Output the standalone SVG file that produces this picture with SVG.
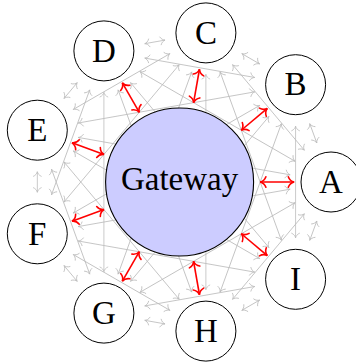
<svg xmlns="http://www.w3.org/2000/svg" width="356" height="363" viewBox="0 0 356 363">
  <style>
    .mesh line { stroke: #bcbcbc; stroke-width: 0.8; fill: none; marker-start: url(#tipGray); marker-end: url(#tipGray); }
    .link line { stroke: #ff0000; stroke-width: 1.6; fill: none; marker-start: url(#tipRed); marker-end: url(#tipRed); }
    .node circle { fill: #ffffff; stroke: #000000; stroke-width: 1; }
    .hub circle { fill: #ccccff; stroke: #000000; stroke-width: 1.1; }
    text { font-family: "Liberation Serif", "DejaVu Serif", serif; font-size: 33px; fill: #000000; text-anchor: middle; }
  </style>
  <defs>
    <marker id="tipGray" viewBox="-7 -6 9 12" refX="0" refY="0" markerWidth="9" markerHeight="12" markerUnits="userSpaceOnUse" orient="auto-start-reverse" style="overflow:visible">
      <path d="M-4.6,-3.9 C-3.7,-1.6 -1.6,-0.4 0,0 C-1.6,0.4 -3.7,1.6 -4.6,3.9" fill="none" stroke="#bcbcbc" stroke-width="0.8" stroke-linecap="round"/>
    </marker>
    <marker id="tipRed" viewBox="-8 -7 10 14" refX="0" refY="0" markerWidth="10" markerHeight="14" markerUnits="userSpaceOnUse" orient="auto-start-reverse" style="overflow:visible">
      <path d="M-5.8,-5.3 C-4.7,-2.2 -2.2,-0.5 0,0 C-2.2,0.5 -4.7,2.2 -5.8,5.3" fill="none" stroke="#ff0000" stroke-width="1.6" stroke-linecap="round"/>
    </marker>
  </defs>

  <!-- connectors: chords between the ring nodes (rotated about the hub centre 179.6,182), then hub links -->
  <g id="connectors">
    <g class="mesh">
      <!-- neighbours (1 step apart) -->
      <line x1="321.87" y1="171.72" x2="321.87" y2="192.28" transform="rotate(-20 179.6 182)"/>
      <line x1="321.87" y1="171.72" x2="321.87" y2="192.28" transform="rotate(-60 179.6 182)"/>
      <line x1="321.87" y1="171.72" x2="321.87" y2="192.28" transform="rotate(-100 179.6 182)"/>
      <line x1="321.87" y1="171.72" x2="321.87" y2="192.28" transform="rotate(-140 179.6 182)"/>
      <line x1="321.87" y1="171.72" x2="321.87" y2="192.28" transform="rotate(-180 179.6 182)"/>
      <line x1="321.87" y1="171.72" x2="321.87" y2="192.28" transform="rotate(-220 179.6 182)"/>
      <line x1="321.87" y1="171.72" x2="321.87" y2="192.28" transform="rotate(-260 179.6 182)"/>
      <line x1="321.87" y1="171.72" x2="321.87" y2="192.28" transform="rotate(-300 179.6 182)"/>
      <line x1="321.87" y1="171.72" x2="321.87" y2="192.28" transform="rotate(-340 179.6 182)"/>
      <!-- 2 steps apart -->
      <line x1="295.58" y1="126.18" x2="295.58" y2="237.82"/>
      <line x1="295.58" y1="126.18" x2="295.58" y2="237.82" transform="rotate(-40 179.6 182)"/>
      <line x1="295.58" y1="126.18" x2="295.58" y2="237.82" transform="rotate(-80 179.6 182)"/>
      <line x1="295.58" y1="126.18" x2="295.58" y2="237.82" transform="rotate(-120 179.6 182)"/>
      <line x1="295.58" y1="126.18" x2="295.58" y2="237.82" transform="rotate(-160 179.6 182)"/>
      <line x1="295.58" y1="126.18" x2="295.58" y2="237.82" transform="rotate(-200 179.6 182)"/>
      <line x1="295.58" y1="126.18" x2="295.58" y2="237.82" transform="rotate(-240 179.6 182)"/>
      <line x1="295.58" y1="126.18" x2="295.58" y2="237.82" transform="rotate(-280 179.6 182)"/>
      <line x1="295.58" y1="126.18" x2="295.58" y2="237.82" transform="rotate(-320 179.6 182)"/>
      <!-- 3 steps apart (tangent to the hub) -->
      <line x1="255.3" y1="92.38" x2="255.3" y2="271.62" transform="rotate(-20 179.6 182)"/>
      <line x1="255.3" y1="92.38" x2="255.3" y2="271.62" transform="rotate(-60 179.6 182)"/>
      <line x1="255.3" y1="92.38" x2="255.3" y2="271.62" transform="rotate(-100 179.6 182)"/>
      <line x1="255.3" y1="92.38" x2="255.3" y2="271.62" transform="rotate(-140 179.6 182)"/>
      <line x1="255.3" y1="92.38" x2="255.3" y2="271.62" transform="rotate(-180 179.6 182)"/>
      <line x1="255.3" y1="92.38" x2="255.3" y2="271.62" transform="rotate(-220 179.6 182)"/>
      <line x1="255.3" y1="92.38" x2="255.3" y2="271.62" transform="rotate(-260 179.6 182)"/>
      <line x1="255.3" y1="92.38" x2="255.3" y2="271.62" transform="rotate(-300 179.6 182)"/>
      <line x1="255.3" y1="92.38" x2="255.3" y2="271.62" transform="rotate(-340 179.6 182)"/>
      <!-- 4 steps apart (pass under the hub) -->
      <line x1="205.89" y1="74.4" x2="205.89" y2="289.6"/>
      <line x1="205.89" y1="74.4" x2="205.89" y2="289.6" transform="rotate(-40 179.6 182)"/>
      <line x1="205.89" y1="74.4" x2="205.89" y2="289.6" transform="rotate(-80 179.6 182)"/>
      <line x1="205.89" y1="74.4" x2="205.89" y2="289.6" transform="rotate(-120 179.6 182)"/>
      <line x1="205.89" y1="74.4" x2="205.89" y2="289.6" transform="rotate(-160 179.6 182)"/>
      <line x1="205.89" y1="74.4" x2="205.89" y2="289.6" transform="rotate(-200 179.6 182)"/>
      <line x1="205.89" y1="74.4" x2="205.89" y2="289.6" transform="rotate(-240 179.6 182)"/>
      <line x1="205.89" y1="74.4" x2="205.89" y2="289.6" transform="rotate(-280 179.6 182)"/>
      <line x1="205.89" y1="74.4" x2="205.89" y2="289.6" transform="rotate(-320 179.6 182)"/>
    </g>
    <g class="link">
      <line x1="260.1" y1="182" x2="294.1" y2="182"/>
      <line x1="260.1" y1="182" x2="294.1" y2="182" transform="rotate(-40 179.6 182)"/>
      <line x1="260.1" y1="182" x2="294.1" y2="182" transform="rotate(-80 179.6 182)"/>
      <line x1="260.1" y1="182" x2="294.1" y2="182" transform="rotate(-120 179.6 182)"/>
      <line x1="260.1" y1="182" x2="294.1" y2="182" transform="rotate(-160 179.6 182)"/>
      <line x1="260.1" y1="182" x2="294.1" y2="182" transform="rotate(-200 179.6 182)"/>
      <line x1="260.1" y1="182" x2="294.1" y2="182" transform="rotate(-240 179.6 182)"/>
      <line x1="260.1" y1="182" x2="294.1" y2="182" transform="rotate(-280 179.6 182)"/>
      <line x1="260.1" y1="182" x2="294.1" y2="182" transform="rotate(-320 179.6 182)"/>
    </g>
  </g>

  <!-- hub -->
  <g id="gateway" class="hub">
    <circle cx="179.6" cy="182" r="74"/>
    <text x="179.6" y="190">Gateway</text>
  </g>

  <!-- ring nodes, every 40 degrees on radius 151.4 -->
  <g id="node-A" class="node"><circle cx="331" cy="182" r="30"/><text x="331" y="192.7">A</text></g>
  <g id="node-B" class="node"><circle cx="295.6" cy="84.7" r="30"/><text x="295.6" y="95.4">B</text></g>
  <g id="node-C" class="node"><circle cx="205.9" cy="32.9" r="30"/><text x="205.9" y="43.6">C</text></g>
  <g id="node-D" class="node"><circle cx="103.9" cy="50.9" r="30"/><text x="103.9" y="61.6">D</text></g>
  <g id="node-E" class="node"><circle cx="37.3" cy="130.2" r="30"/><text x="37.3" y="140.9">E</text></g>
  <g id="node-F" class="node"><circle cx="37.3" cy="233.8" r="30"/><text x="37.3" y="244.5">F</text></g>
  <g id="node-G" class="node"><circle cx="103.9" cy="313.1" r="30"/><text x="103.9" y="323.8">G</text></g>
  <g id="node-H" class="node"><circle cx="205.9" cy="331.1" r="30"/><text x="205.9" y="341.8">H</text></g>
  <g id="node-I" class="node"><circle cx="295.6" cy="279.3" r="30"/><text x="295.6" y="290">I</text></g>
</svg>
